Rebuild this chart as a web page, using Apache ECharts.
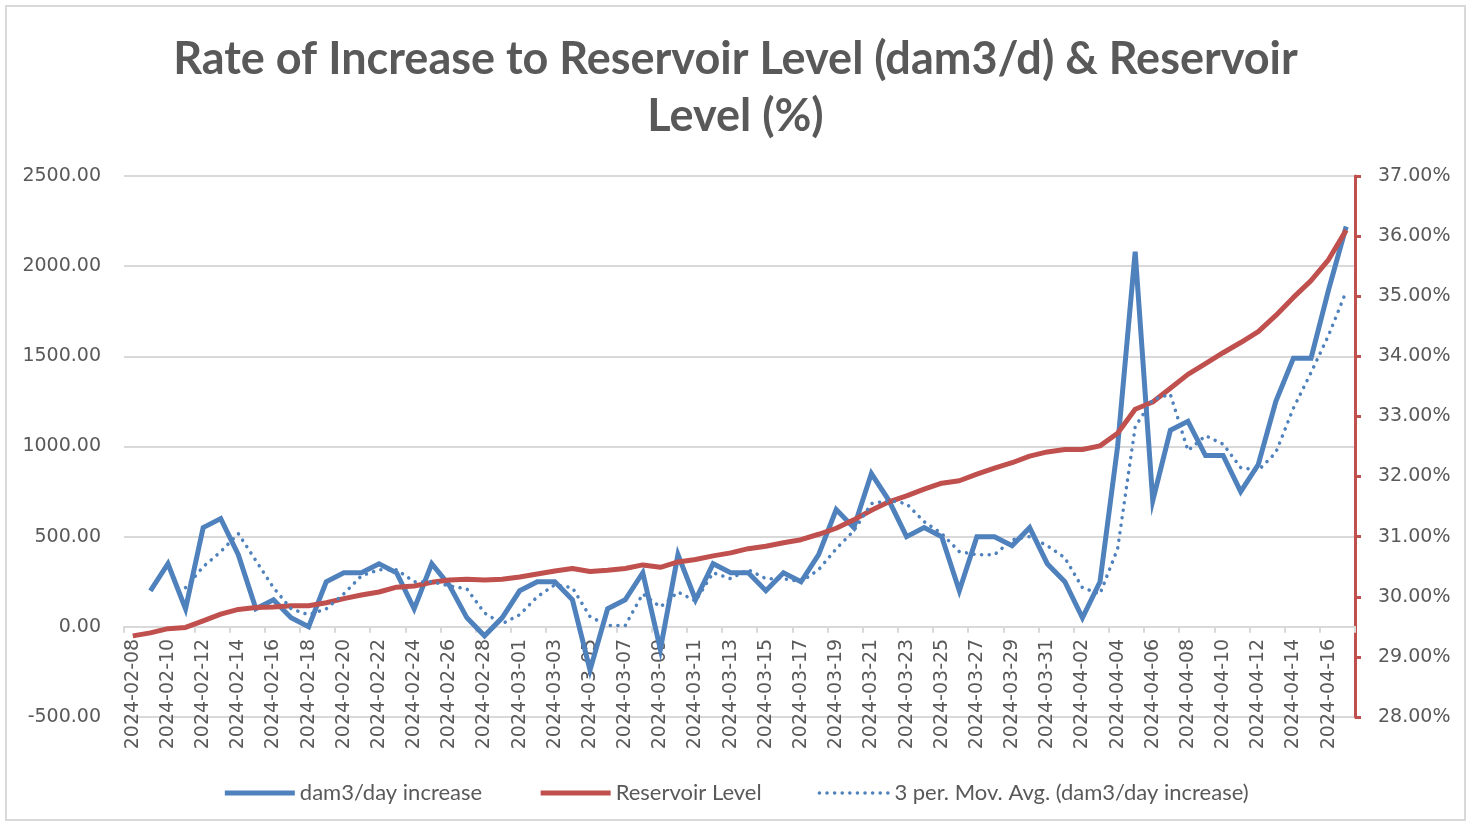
<!DOCTYPE html>
<html>
<head>
<meta charset="utf-8">
<script src="https://cdn.jsdelivr.net/npm/echarts@6/dist/echarts.min.js"></script>
<style>
  html, body { margin: 0; padding: 0; background: #fff; }
  #chart { position: absolute; left: 0; top: 0; width: 1471px; height: 826px; }
  #frame {
    position: absolute; left: 5px; top: 5px; width: 1461px; height: 816px;
    border: 2px solid #d9d9d9; box-sizing: border-box; pointer-events: none;
  }
</style>
</head>
<body>
<div id="chart"></div>
<div id="frame"></div>
<script>
// dates, one per day from 2024-02-08 to 2024-04-17
const dates = [
  "2024-02-08", "2024-02-09", "2024-02-10", "2024-02-11", "2024-02-12", "2024-02-13", "2024-02-14",
  "2024-02-15", "2024-02-16", "2024-02-17", "2024-02-18", "2024-02-19", "2024-02-20", "2024-02-21",
  "2024-02-22", "2024-02-23", "2024-02-24", "2024-02-25", "2024-02-26", "2024-02-27", "2024-02-28",
  "2024-02-29", "2024-03-01", "2024-03-02", "2024-03-03", "2024-03-04", "2024-03-05", "2024-03-06",
  "2024-03-07", "2024-03-08", "2024-03-09", "2024-03-10", "2024-03-11", "2024-03-12", "2024-03-13",
  "2024-03-14", "2024-03-15", "2024-03-16", "2024-03-17", "2024-03-18", "2024-03-19", "2024-03-20",
  "2024-03-21", "2024-03-22", "2024-03-23", "2024-03-24", "2024-03-25", "2024-03-26", "2024-03-27",
  "2024-03-28", "2024-03-29", "2024-03-30", "2024-03-31", "2024-04-01", "2024-04-02", "2024-04-03",
  "2024-04-04", "2024-04-05", "2024-04-06", "2024-04-07", "2024-04-08", "2024-04-09", "2024-04-10",
  "2024-04-11", "2024-04-12", "2024-04-13", "2024-04-14", "2024-04-15", "2024-04-16", "2024-04-17"
];

// dam3/day increase (left axis)
const dailyIncrease = [
  null, 200, 350, 100, 550, 600, 400,
  100, 150, 50, 0, 250, 300, 300,
  350, 300, 100, 350, 230, 50, -50,
  50, 200, 250, 250, 150, -240, 100,
  150, 300, -125, 400, 150, 350, 300,
  300, 200, 300, 250, 400, 650, 550,
  850, 700, 500, 550, 500, 200, 500,
  500, 450, 550, 350, 250, 50, 250,
  1000, 2080, 700, 1090, 1140, 950, 950,
  750, 900, 1250, 1490, 1490, 1870, 2220
];

// reservoir level in % (right axis)
const reservoirLevel = [
  29.35, 29.40, 29.47, 29.49, 29.60, 29.71, 29.79,
  29.82, 29.83, 29.85, 29.85, 29.90, 29.97, 30.03,
  30.08, 30.16, 30.18, 30.24, 30.28, 30.29, 30.28,
  30.29, 30.33, 30.38, 30.43, 30.47, 30.42, 30.44,
  30.47, 30.53, 30.49, 30.58, 30.62, 30.68, 30.73,
  30.80, 30.84, 30.90, 30.95, 31.04, 31.14, 31.28,
  31.44, 31.58, 31.68, 31.79, 31.89, 31.93, 32.04,
  32.14, 32.23, 32.34, 32.41, 32.45, 32.45, 32.51,
  32.72, 33.12, 33.24, 33.47, 33.70, 33.88, 34.06,
  34.23, 34.41, 34.68, 34.98, 35.26, 35.61, 36.10
];

// 3 per. moving average line
const movingAvg = [
  null, null, null, 217, 333, 417, 517,
  367, 217, 100, 67, 100, 183, 283,
  317, 317, 250, 250, 227, 210, 77,
  17, 67, 167, 233, 217, 57, 7,
  7, 183, 110, 193, 143, 300, 267,
  317, 267, 267, 250, 317, 433, 533,
  683, 700, 683, 583, 517, 417, 400,
  400, 483, 500, 450, 383, 217, 183,
  433, 1110, 1260, 1290, 977, 1060, 1013,
  883, 867, 967, 1213, 1410, 1617, 1860
];

const textColor = "#595959";
const gridColor = "#d9d9d9";
const blue = "#4f81bd";
const red = "#c0504d";
const labelFont = "DejaVu Sans";

const solidBlue = { color: blue, width: 5, join: "miter" };
const solidRed = { color: red, width: 5, join: "round" };
const dottedBlue = { color: blue, width: 3.5, type: [0.1, 7.5], cap: "round" };

const chart = echarts.init(document.getElementById("chart"));

const option = {
  animation: false,
  title: {
    text: "Rate of Increase to Reservoir Level (dam3/d) & Reservoir\nLevel (%)",
    left: "center",
    top: 26,
    textStyle: {
      fontFamily: "Lato",
      fontSize: 45,
      fontWeight: "bold",
      lineHeight: 57,
      color: textColor,
    },
  },
  legend: {
    top: 777,
    left: "center",
    itemWidth: 70,
    itemHeight: 14,
    itemGap: 56,
    itemStyle: { opacity: 0 },
    textStyle: { fontFamily: "Lato", fontSize: 22, color: textColor },
    data: [
      { name: "dam3/day increase", lineStyle: solidBlue },
      { name: "Reservoir Level", lineStyle: solidRed },
      { name: "3 per. Mov. Avg. (dam3/day increase)", lineStyle: dottedBlue },
    ],
  },
  grid: { left: 124, right: 116, top: 176, bottom: 109, outerBoundsMode: "none" },
  xAxis: {
    type: "category",
    data: dates,
    boundaryGap: true,
    offset: 0,
    axisLine: { onZero: false, lineStyle: { color: gridColor, width: 2 } },
    axisTick: { show: true, interval: 1, length: 6, lineStyle: { color: gridColor, width: 2 } },
    axisLabel: {
      interval: 1,
      rotate: 90,
      margin: 12,
      fontFamily: labelFont,
      fontSize: 19,
      color: textColor,
    },
  },
  yAxis: [
    {
      type: "value",
      min: -500,
      max: 2500,
      interval: 500,
      axisLine: { show: false },
      axisTick: { show: false },
      splitLine: { lineStyle: { color: gridColor, width: 2 } },
      axisLabel: {
        margin: 23,
        fontFamily: labelFont,
        fontSize: 19,
        color: textColor,
        formatter: (v) => v.toFixed(2),
      },
    },
    {
      type: "value",
      min: 28,
      max: 37,
      interval: 1,
      position: "right",
      axisLine: { show: true, lineStyle: { color: red, width: 3 } },
      axisTick: { show: true, length: 6, lineStyle: { color: red, width: 3 } },
      splitLine: { show: false },
      axisLabel: {
        margin: 23,
        fontFamily: labelFont,
        fontSize: 19,
        color: textColor,
        formatter: (v) => v.toFixed(2) + "%",
      },
    },
  ],
  series: [
    {
      name: "dam3/day increase",
      type: "line",
      data: dailyIncrease,
      yAxisIndex: 0,
      showSymbol: false,
      symbol: "none",
      lineStyle: solidBlue,
      itemStyle: { color: blue },
    },
    {
      name: "Reservoir Level",
      type: "line",
      data: reservoirLevel,
      yAxisIndex: 1,
      showSymbol: false,
      symbol: "none",
      lineStyle: solidRed,
      itemStyle: { color: red },
    },
    {
      name: "3 per. Mov. Avg. (dam3/day increase)",
      type: "line",
      data: movingAvg,
      yAxisIndex: 0,
      showSymbol: false,
      symbol: "none",
      lineStyle: dottedBlue,
      itemStyle: { color: blue },
    },
  ],
};

chart.setOption(option);

// move the category axis up so it sits on the 0 line of the left axis
const zeroY = chart.convertToPixel({ yAxisIndex: 0 }, 0);
const bottomY = chart.convertToPixel({ yAxisIndex: 0 }, -500);
chart.setOption({ xAxis: { offset: zeroY - bottomY } });
</script>
</body>
</html>
